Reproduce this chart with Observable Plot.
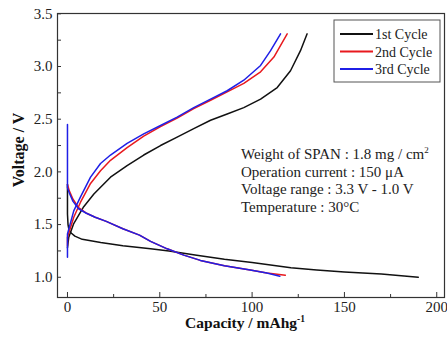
<!DOCTYPE html>
<html><head><meta charset="utf-8">
<script src="https://cdn.jsdelivr.net/npm/d3@7"></script>
<script src="https://cdn.jsdelivr.net/npm/@observablehq/plot@0.6"></script>
<style>
body{margin:0;background:#fff;}
#chart{position:relative;width:447px;height:338px;}
</style></head><body><div id="chart"></div>
<script>
// Data
const cycles = ["1st Cycle", "2nd Cycle", "3rd Cycle"];
const colors = ["#111111", "#e8191e", "#1f1fe6"];

const c1DisCap = [0, 0, 0.3, 0.8, 2, 4, 8, 18, 30, 45, 55, 70, 85, 100, 121, 135, 150, 170, 190];
const c1DisV   = [1.88, 1.6, 1.5, 1.45, 1.42, 1.39, 1.36, 1.33, 1.30, 1.27, 1.25, 1.21, 1.17, 1.14, 1.09, 1.07, 1.05, 1.03, 1.0];
const c1ChgCap = [0, 0.7, 3.4, 8.8, 14.3, 23.3, 32.3, 41.3, 50.4, 59.4, 68.4, 77.5, 86.5, 95.5, 104.6, 113.6, 120.8, 126.2, 129.8];
const c1ChgV   = [1.28, 1.38, 1.51, 1.67, 1.79, 1.95, 2.06, 2.16, 2.25, 2.33, 2.41, 2.49, 2.55, 2.61, 2.69, 2.80, 2.96, 3.15, 3.31];

const c2DisCap = [0, 1, 3, 6, 10, 15, 21, 30, 39, 45, 54, 63, 72, 85, 99, 108, 118];
const c2DisV   = [1.88, 1.82, 1.74, 1.66, 1.61, 1.57, 1.53, 1.46, 1.40, 1.34, 1.27, 1.21, 1.16, 1.11, 1.07, 1.04, 1.02];
const c2ChgCap = [0, 0, 3.4, 7, 12.5, 17.9, 23.3, 32.3, 41.3, 50.4, 59.4, 68.4, 77.5, 86.5, 95.5, 104.6, 111.8, 119];
const c2ChgV   = [1.3, 1.38, 1.57, 1.71, 1.89, 2.01, 2.11, 2.23, 2.34, 2.43, 2.51, 2.60, 2.68, 2.76, 2.84, 2.95, 3.09, 3.31];

const c3DisCap = [0, 0, 1, 3, 6, 10, 15, 21, 30, 39, 45, 54, 63, 72, 85, 99, 108, 115];
const c3DisV   = [2.45, 1.85, 1.80, 1.72, 1.65, 1.61, 1.57, 1.53, 1.46, 1.40, 1.34, 1.27, 1.21, 1.16, 1.11, 1.07, 1.04, 1.01];
const c3ChgCap = [0, 0, 3.4, 7, 12.5, 17.9, 23.3, 32.3, 41.3, 50.4, 59.4, 68.4, 77.5, 86.5, 95.5, 104.6, 110, 115.4];
const c3ChgV   = [1.19, 1.41, 1.63, 1.76, 1.95, 2.08, 2.16, 2.27, 2.36, 2.44, 2.52, 2.61, 2.69, 2.77, 2.87, 3.01, 3.15, 3.31];

const xMajor = [0, 50, 100, 150, 200];
const xMinor = [25, 75, 125, 175];
const yMajor = [1.0, 1.5, 2.0, 2.5, 3.0, 3.5];
const yMinor = [1.25, 1.75, 2.25, 2.75, 3.25];

const notes = ["Weight of SPAN : 1.8 mg / cm", "Operation current : 150 μA", "Voltage range : 3.3 V - 1.0 V", "Temperature : 30°C"];

// Build table
const branches = [
  [cycles[0], "dis", c1DisCap, c1DisV], [cycles[0], "chg", c1ChgCap, c1ChgV],
  [cycles[1], "dis", c2DisCap, c2DisV], [cycles[1], "chg", c2ChgCap, c2ChgV],
  [cycles[2], "dis", c3DisCap, c3DisV], [cycles[2], "chg", c3ChgCap, c3ChgV]
];
const rows = branches.flatMap(([cycle, b, caps, vs]) => caps.map((c, i) => ({cycle, branch: cycle + b, cap: c, v: vs[i]})));

const font = "'Liberation Serif', 'Times New Roman', serif";
const chart = Plot.plot({
  width: 447, height: 338,
  marginLeft: 57, marginRight: 3, marginTop: 13, marginBottom: 41,
  style: {fontFamily: font, background: "#fff", color: "#222"},
  x: {domain: [-5.4, 204.2]},
  y: {domain: [0.808, 3.503]},
  color: {domain: cycles, range: colors},
  marks: [
    Plot.axisX({ticks: xMajor, tickSize: 0, tickPadding: 4, fontSize: 15, tickFormat: d => d, label: null}),
    Plot.axisX({ticks: xMajor, tickSize: -5, text: null, label: null, stroke: "#333"}),
    Plot.axisX({ticks: xMinor, tickSize: -3, text: null, label: null, stroke: "#333"}),
    Plot.axisY({ticks: yMajor, tickSize: 0, tickPadding: 5, fontSize: 15, tickFormat: d3.format(".1f"), label: null}),
    Plot.axisY({ticks: yMajor, tickSize: -4, text: null, label: null, stroke: "#333"}),
    Plot.axisY({ticks: yMinor, tickSize: -4, text: null, label: null, stroke: "#333"}),
    Plot.line(rows, {x: "cap", y: "v", z: "branch", stroke: "cycle", strokeWidth: 1.5}),
    Plot.frame({stroke: "#333", strokeWidth: 1.2})
  ]
});
document.getElementById("chart").appendChild(chart);

const svg = d3.select(chart);
// Legend
const lg = svg.append("g").attr("font-family", font).attr("font-size", 14).attr("fill", "#222").attr("text-anchor", "start");
lg.append("rect").attr("x", 334).attr("y", 20).attr("width", 106).attr("height", 62)
  .attr("fill", "#fff").attr("stroke", "#555").attr("stroke-width", 1);
cycles.forEach((c, i) => {
  const yy = 34 + i * 17.5;
  lg.append("line").attr("x1", 340).attr("x2", 373).attr("y1", yy).attr("y2", yy)
    .attr("stroke", colors[i]).attr("stroke-width", 2);
  lg.append("text").attr("x", 375).attr("y", yy + 5).attr("text-anchor", "start").text(c);
});
// Notes
const ng = svg.append("g").attr("font-family", font).attr("font-size", 15).attr("fill", "#222").attr("text-anchor", "start");
notes.forEach((t, i) => {
  const tx = ng.append("text").attr("x", 241).attr("y", 159 + i * 17.6).attr("text-anchor", "start").text(t);
  if (i === 0) tx.append("tspan").attr("dy", -6).attr("font-size", 9).text("2");
});
// Axis titles
const xt = svg.append("text").attr("x", 245).attr("y", 328).attr("text-anchor", "middle")
  .attr("font-family", font).attr("font-weight", "bold").attr("font-size", 15.5).attr("fill", "#111")
  .text("Capacity / mAhg");
xt.append("tspan").attr("dy", -6).attr("font-size", 9.5).text("-1");
svg.append("text").attr("transform", "translate(23.5,150) rotate(-90)").attr("text-anchor", "middle")
  .attr("font-family", font).attr("font-weight", "bold").attr("font-size", 16).attr("fill", "#111")
  .text("Voltage / V");
</script></body></html>
